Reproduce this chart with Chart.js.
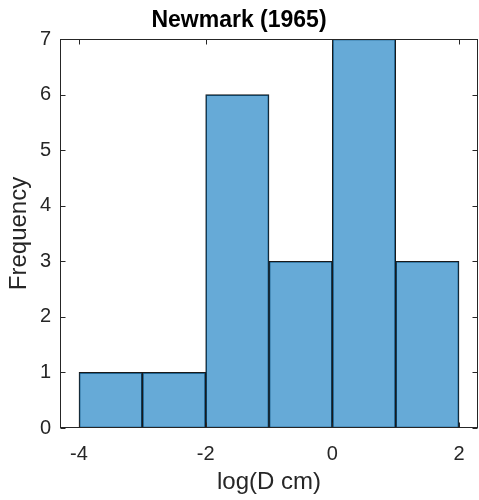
<!DOCTYPE html>
<html>
<head>
<meta charset="utf-8">
<script src="https://cdn.jsdelivr.net/npm/chart.js@4.4.1/dist/chart.umd.min.js"></script>
<style>
  html, body { margin: 0; padding: 0; background: #fff; }
  canvas { display: block; }
</style>
</head>
<body>
<canvas id="hist" width="479" height="500"></canvas>
<script>
// bin edges (log D cm) and counts per bin
const binEdges = [-4, -3, -2, -1, 0, 1, 2];
const counts = [1, 1, 6, 3, 7, 3];
const xTicks = [-4, -2, 0, 2];
const yTicks = [0, 1, 2, 3, 4, 5, 6, 7];

const axisColor = '#262626';
const fontFamily = "'Liberation Sans', Arial, sans-serif";

const barData = counts.map((c, i) => ({ x: (binEdges[i] + binEdges[i + 1]) / 2, y: c }));

// MATLAB-style box with inward tick marks
const boxTicks = {
  id: 'boxTicks',
  afterDatasetsDraw(chart) {
    const { ctx, chartArea: a, scales } = chart;
    const L = Math.round(a.left) + 0.5, R = Math.round(a.right) - 0.5;
    const T = Math.round(a.top) + 0.5, B = Math.round(a.bottom) - 0.5;
    ctx.save();
    ctx.strokeStyle = axisColor;
    ctx.lineWidth = 1;
    ctx.strokeRect(L, T, R - L, B - T);
    ctx.beginPath();
    xTicks.forEach(v => {
      const px = Math.round(scales.x.getPixelForValue(v)) + 0.5;
      ctx.moveTo(px, B); ctx.lineTo(px, B - 5);
      ctx.moveTo(px, T); ctx.lineTo(px, T + 5);
    });
    yTicks.forEach(v => {
      const py = Math.round(scales.y.getPixelForValue(v)) + 0.5;
      ctx.moveTo(L, py); ctx.lineTo(L + 5, py);
      ctx.moveTo(R, py); ctx.lineTo(R - 5, py);
    });
    ctx.stroke();
    ctx.restore();
  }
};

new Chart(document.getElementById('hist'), {
  type: 'bar',
  data: {
    datasets: [{
      data: barData,
      backgroundColor: 'rgba(0, 114, 189, 0.6)',
      borderColor: '#1a1a1a',
      borderWidth: 1,
      borderSkipped: false,
      barPercentage: 1,
      categoryPercentage: 1
    }]
  },
  options: {
    responsive: false,
    animation: false,
    layout: { padding: { left: 0, right: 1, top: 0, bottom: 0 } },
    plugins: {
      legend: { display: false },
      tooltip: { enabled: false },
      title: {
        display: true,
        text: 'Newmark (1965)',
        color: '#000',
        font: { family: fontFamily, size: 23, weight: 'bold' },
        padding: { top: 7, bottom: 4.4 }
      }
    },
    scales: {
      x: {
        type: 'linear',
        min: -4.3,
        max: 2.3,
        offset: false,
        afterFit(s) { s.height = 72; },
        afterBuildTicks(s) { s.ticks = xTicks.map(v => ({ value: v })); },
        grid: { display: false, drawTicks: false, offset: false },
        border: { display: false },
        ticks: { color: axisColor, padding: 14, font: { family: fontFamily, size: 20 } },
        title: {
          display: true,
          text: 'log(D cm)',
          color: axisColor,
          font: { family: fontFamily, size: 24 },
          padding: { top: 0, bottom: 3 }
        }
      },
      y: {
        min: 0,
        max: 7,
        afterFit(s) { s.width = 60; },
        afterBuildTicks(s) { s.ticks = yTicks.map(v => ({ value: v })); },
        grid: { display: false, drawTicks: false },
        border: { display: false },
        ticks: { color: axisColor, padding: 9, font: { family: fontFamily, size: 20 } },
        title: {
          display: true,
          text: 'Frequency',
          color: axisColor,
          font: { family: fontFamily, size: 24 },
          padding: { top: 5, bottom: 0 }
        }
      }
    }
  },
  plugins: [boxTicks]
});
</script>
</body>
</html>
